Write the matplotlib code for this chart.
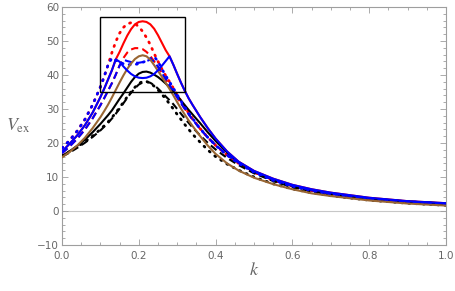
import matplotlib
matplotlib.use("Agg")
import matplotlib.pyplot as plt
from matplotlib.patches import Rectangle
from matplotlib.ticker import MultipleLocator

plt.rcParams['mathtext.fontset'] = 'stix'

k = [0.00, 0.02, 0.04, 0.06, 0.08, 0.10, 0.11, 0.12, 0.13, 0.14,
     0.15, 0.16, 0.17, 0.18, 0.19, 0.20, 0.21, 0.22, 0.23, 0.24,
     0.25, 0.26, 0.27, 0.28, 0.29, 0.30, 0.31, 0.32, 0.33, 0.34,
     0.36, 0.38, 0.40, 0.43, 0.46, 0.50, 0.55, 0.60, 0.65, 0.70,
     0.80, 0.90, 1.00]

blue_solid = [17.5, 19.8, 22.3, 25.3, 29.0, 33.5, 36.0, 38.7, 41.4, 44.6,
              43.9, 42.5, 41.3, 40.3, 39.6, 39.2, 39.1, 39.2, 39.6, 40.3,
              41.4, 42.7, 44.1, 45.5, 43.0, 40.3, 37.7, 35.3, 33.1, 31.2,
              27.6, 24.3, 21.3, 17.5, 14.5, 11.8, 9.5, 7.7, 6.4, 5.4,
              3.9, 2.9, 2.3]

red_solid = [17.5, 19.8, 22.3, 25.3, 29.0, 33.5, 36.0, 38.7, 41.4, 44.6,
             46.8, 49.3, 51.6, 53.5, 54.9, 55.6, 55.8, 55.6, 54.9, 53.6,
             51.7, 49.5, 47.3, 45.5, 43.0, 40.3, 37.7, 35.3, 33.1, 31.2,
             27.6, 24.3, 21.3, 17.5, 14.5, 11.8, 9.5, 7.7, 6.4, 5.4,
             3.9, 2.9, 2.3]

red_dotted = [18.5, 20.8, 23.6, 27.0, 31.3, 36.5, 39.6, 43.0, 46.6, 49.8,
              52.3, 54.0, 55.0, 55.4, 55.1, 54.2, 52.8, 51.0, 48.9, 46.3,
              44.0, 41.8, 39.8, 38.0, 36.1, 34.2, 32.3, 30.5, 28.8, 27.2,
              24.2, 21.6, 19.3, 16.4, 14.0, 11.4, 9.0, 7.3, 6.0, 5.0,
              3.6, 2.7, 2.1]

blue_dotted = [18.5, 20.8, 23.6, 27.0, 31.3, 36.5, 39.6, 43.0, 45.0, 44.3,
               43.7, 43.3, 43.1, 43.0, 43.1, 43.3, 43.7, 44.2, 44.8, 45.4,
               44.0, 41.8, 39.8, 38.0, 36.1, 34.2, 32.3, 30.5, 28.8, 27.2,
               24.2, 21.6, 19.3, 16.4, 14.0, 11.4, 9.0, 7.3, 6.0, 5.0,
               3.6, 2.7, 2.1]

red_dashed = [17.0, 19.0, 21.3, 24.0, 27.3, 31.1, 33.2, 35.4, 37.6, 40.1,
              42.8, 45.0, 46.6, 47.5, 47.9, 47.9, 47.6, 46.8, 45.6, 44.0,
              42.4, 40.6, 38.8, 37.0, 35.2, 33.4, 31.7, 30.0, 28.4, 26.9,
              24.1, 21.6, 19.4, 16.5, 14.2, 11.6, 9.2, 7.4, 6.1, 5.1,
              3.7, 2.8, 2.2]

blue_dashed = [17.0, 19.0, 21.3, 24.0, 27.3, 31.1, 33.2, 35.4, 37.6, 40.1,
               42.8, 44.5, 44.1, 43.8, 43.6, 43.6, 43.8, 44.1, 44.5, 44.0,
               42.4, 40.6, 38.8, 37.0, 35.2, 33.4, 31.7, 30.0, 28.4, 26.9,
               24.1, 21.6, 19.4, 16.5, 14.2, 11.6, 9.2, 7.4, 6.1, 5.1,
               3.7, 2.8, 2.2]

black_solid = [16.2, 17.6, 19.2, 21.0, 23.2, 25.6, 26.9, 28.2, 29.6, 31.3,
               33.0, 34.6, 36.3, 38.0, 39.4, 40.4, 40.9, 41.0, 40.7, 40.1,
               39.4, 38.5, 37.5, 36.4, 35.2, 33.9, 32.5, 31.1, 29.7, 28.4,
               25.8, 23.1, 20.6, 17.2, 14.3, 11.6, 9.2, 7.4, 6.2, 5.2,
               3.7, 2.8, 2.2]

black_dashed = [16.0, 17.2, 18.6, 20.1, 21.8, 23.7, 24.8, 25.9, 27.2, 28.6,
                30.1, 31.7, 33.3, 34.8, 36.1, 37.2, 37.8, 38.0, 37.7, 37.0,
                36.0, 34.9, 33.7, 32.6, 31.4, 30.0, 28.6, 27.2, 25.9, 24.6,
                22.2, 20.0, 18.1, 15.6, 13.5, 11.1, 8.8, 7.0, 5.8, 4.8,
                3.4, 2.5, 1.9]

black_dotted = [16.2, 17.5, 18.9, 20.4, 22.1, 24.0, 25.1, 26.2, 27.5, 28.9,
                30.4, 32.0, 33.6, 35.1, 36.4, 37.5, 38.1, 38.1, 37.6, 36.7,
                35.6, 34.3, 33.0, 31.5, 30.0, 28.4, 26.9, 25.4, 24.0, 22.6,
                20.2, 17.9, 16.0, 13.8, 12.0, 10.0, 8.0, 6.5, 5.4, 4.5,
                3.2, 2.3, 1.7]

brown = [15.8, 17.4, 19.3, 21.6, 24.4, 27.6, 29.4, 31.3, 33.4, 35.6,
         37.8, 39.9, 41.8, 43.4, 44.7, 45.5, 45.8, 45.5, 44.5, 42.9,
         41.2, 39.5, 37.7, 35.9, 34.0, 32.0, 30.1, 28.3, 26.6, 25.0,
         22.0, 19.2, 16.8, 14.0, 11.9, 9.8, 7.9, 6.4, 5.2, 4.4,
         3.1, 2.2, 1.6]

box_k = [0.10, 0.32]
box_v = [35.0, 57.0]

xticks = [0.0, 0.2, 0.4, 0.6, 0.8, 1.0]
yticks = [-10, 0, 10, 20, 30, 40, 50, 60]

RED = (1.0, 0.0, 0.0)
BLUE = (0.0, 0.0, 1.0)
BLACK = (0.0, 0.0, 0.0)
BROWN = (0.6, 0.4, 0.2)
FRAME = (0.62, 0.62, 0.62)
TXT = (0.40, 0.40, 0.40)

fig = plt.figure(figsize=(4.56, 2.91), dpi=100)
ax = fig.add_axes([0.136, 0.158, 0.842, 0.818])

ax.axhline(0, color=(0.78, 0.78, 0.78), lw=0.8, zorder=1)

lw = 1.5
dlw = 2.0
dot = (0, (0.4, 2.2))
dash = (0, (3.5, 2.0))

ax.plot(k, red_solid, color=RED, lw=lw, zorder=3)
ax.plot(k, red_dotted, color=RED, lw=dlw, ls=dot, dash_capstyle='round', zorder=3)
ax.plot(k, red_dashed, color=RED, lw=lw, ls=dash, zorder=3)
ax.plot(k, black_solid, color=BLACK, lw=lw, zorder=4)
ax.plot(k, black_dashed, color=BLACK, lw=lw, ls=dash, zorder=4)
ax.plot(k, black_dotted, color=BLACK, lw=dlw, ls=dot, dash_capstyle='round', zorder=4)
ax.plot(k, blue_dotted, color=BLUE, lw=dlw, ls=dot, dash_capstyle='round', zorder=5)
ax.plot(k, blue_dashed, color=BLUE, lw=lw, ls=dash, zorder=5)
ax.plot(k, brown, color=BROWN, lw=lw, zorder=5)
ax.plot(k, blue_solid, color=BLUE, lw=lw, zorder=6)

ax.add_patch(Rectangle((box_k[0], box_v[0]), box_k[1] - box_k[0], box_v[1] - box_v[0],
                       fill=False, edgecolor=BLACK, lw=1.0, zorder=7))

ax.set_xlim(0, 1)
ax.set_ylim(-10, 60)
ax.set_xticks(xticks)
ax.set_xticklabels([f"{t:.1f}" for t in xticks])
ax.set_yticks(yticks)
ax.set_yticklabels([str(t).replace('-', '\u2212') for t in yticks])
ax.xaxis.set_minor_locator(MultipleLocator(0.05))
ax.yaxis.set_minor_locator(MultipleLocator(2))

for s in ax.spines.values():
    s.set_color(FRAME)
    s.set_linewidth(0.8)
ax.tick_params(which='both', direction='in', top=True, right=True, color=FRAME,
               labelcolor=TXT, labelsize=7.5, width=0.6)
ax.tick_params(axis='x', pad=4)
ax.tick_params(axis='y', pad=2)
ax.tick_params(which='major', length=4)
ax.tick_params(which='minor', length=2)

ax.set_xlabel(r'$k$', fontsize=13, color=TXT, labelpad=0)
ax.set_ylabel(r'$V_{\rm ex}$', fontsize=13, color=TXT, rotation=0, labelpad=14, va='center')

fig.savefig("out.png", dpi=100)
